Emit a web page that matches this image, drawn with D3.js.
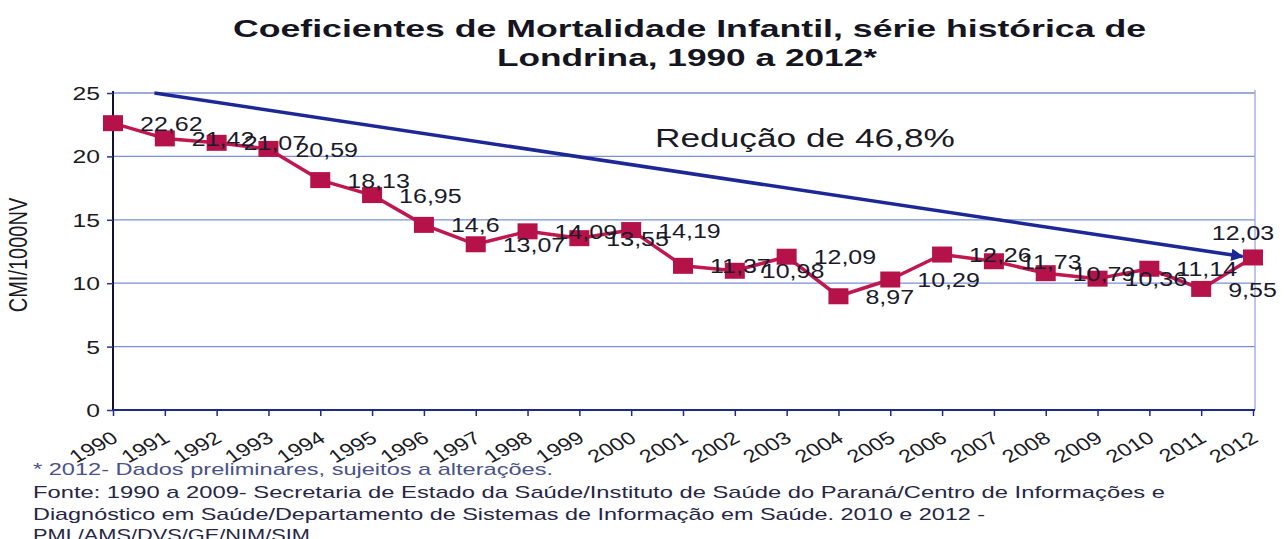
<!DOCTYPE html>
<html>
<head>
<meta charset="utf-8">
<script src="https://cdn.jsdelivr.net/npm/d3@7"></script>
<style>
  html, body { margin: 0; padding: 0; background: #ffffff; }
  svg { display: block; font-family: "Liberation Sans", Arial, sans-serif; }
</style>
</head>
<body>
<svg id="chart" width="1285" height="539"></svg>
<script>
// Infant mortality coefficients (per 1000 live births), Londrina
const years = [1990, 1991, 1992, 1993, 1994, 1995, 1996, 1997, 1998, 1999, 2000, 2001,
               2002, 2003, 2004, 2005, 2006, 2007, 2008, 2009, 2010, 2011, 2012];
const cmi = [22.62, 21.42, 21.07, 20.59, 18.13, 16.95, 14.6, 13.07, 14.09, 13.55, 14.19, 11.37,
             10.98, 12.09, 8.97, 10.29, 12.26, 11.73, 10.79, 10.36, 11.14, 9.55, 12.03];
const yTicks = [0, 5, 10, 15, 20, 25];

// Trend arrow (start and end, in year / value units)
const trendYears = [1990.8, 2011.8];
const trendValues = [25, 12.1];
const trendLabel = "Redução de 46,8%";

const titleLines = ["Coeficientes de Mortalidade Infantil, série histórica de",
                    "Londrina, 1990 a 2012*"];
const yTitle = "CMI/1000NV";
const notes = [
  "* 2012- Dados preliminares, sujeitos a alterações.",
  "Fonte: 1990 a 2009- Secretaria de Estado da Saúde/Instituto de Saúde do Paraná/Centro de Informações e",
  "Diagnóstico em Saúde/Departamento de Sistemas de Informação em Saúde. 2010 e 2012 -",
  "PML/AMS/DVS/GE/NIM/SIM"
];

const svg = d3.select("#chart");
const plot = { left: 113, right: 1253, top: 93, bottom: 410, frameRight: 1255 };
const SX = 1.3; // horizontal text stretch

const x = d3.scaleLinear().domain([1990, 2012]).range([plot.left, plot.right]);
const y = d3.scaleLinear().domain([0, 25]).range([plot.bottom, plot.top]);
const br = d3.formatLocale({ decimal: ",", thousands: ".", grouping: [3], currency: ["R$", ""] });
const fmt = br.format("");

// Title
const titleBox = [[233, 37, 913], [497, 66, 380]];
titleLines.forEach((t, i) => {
  svg.append("text")
    .attr("x", titleBox[i][0]).attr("y", titleBox[i][1])
    .attr("textLength", titleBox[i][2]).attr("lengthAdjust", "spacingAndGlyphs")
    .attr("font-size", 24).attr("font-weight", "bold").attr("fill", "#15151f")
    .text(t);
});

// Horizontal gridlines
svg.append("g").selectAll("line").data(yTicks.filter(d => d > 0)).join("line")
  .attr("x1", plot.left).attr("x2", plot.frameRight)
  .attr("y1", d => y(d)).attr("y2", d => y(d))
  .attr("stroke", "#7d8fd0").attr("stroke-width", 1.3);

// Right frame
svg.append("line")
  .attr("x1", plot.frameRight).attr("x2", plot.frameRight)
  .attr("y1", plot.top - 3).attr("y2", plot.bottom)
  .attr("stroke", "#9aa8da").attr("stroke-width", 1.3);

// Y axis
const yAxis = svg.append("g").attr("transform", `translate(${plot.left},0)`)
  .call(d3.axisLeft(y).tickValues(yTicks).tickSize(6).tickPadding(13));
yAxis.select(".domain").attr("stroke", "#12122a").attr("stroke-width", 2)
  .attr("d", `M0,${plot.top - 2}V${plot.bottom}`);
yAxis.selectAll(".tick line").attr("stroke", "#2a3590").attr("stroke-width", 1.5);
yAxis.selectAll(".tick text")
  .attr("font-size", 19).attr("fill", "#1a1a24")
  .attr("font-family", "'Liberation Sans', Arial, sans-serif")
  .attr("x", null).attr("dy", null)
  .attr("dominant-baseline", "central")
  .attr("transform", `translate(-13,0) scale(${SX},1)`);

// X axis
const xAxis = svg.append("g").attr("transform", `translate(0,${plot.bottom})`)
  .call(d3.axisBottom(x).tickValues(years).tickFormat(d3.format("d")).tickSize(6));
xAxis.select(".domain").attr("stroke", "#1e2a8a").attr("stroke-width", 2)
  .attr("d", `M${plot.left},0H${plot.frameRight}`);
xAxis.selectAll(".tick line").attr("stroke", "#1e2a8a").attr("stroke-width", 1.5);
xAxis.selectAll(".tick text")
  .attr("font-size", 18).attr("fill", "#1a1a24")
  .attr("font-family", "'Liberation Sans', Arial, sans-serif")
  .attr("y", null).attr("dy", null)
  .attr("text-anchor", "end")
  .attr("transform", `translate(6,31) scale(${SX},1) rotate(-34)`);

// Y axis title
svg.append("text")
  .attr("transform", `translate(27,255) scale(${SX},1) rotate(-90)`)
  .attr("text-anchor", "middle")
  .attr("font-size", 20).attr("fill", "#1a1a24")
  .text(yTitle);

// Series line
const pts = years.map((yr, i) => ({ year: yr, value: cmi[i] }));
const line = d3.line().x(d => x(d.year)).y(d => y(d.value));
svg.append("path").datum(pts)
  .attr("d", line)
  .attr("fill", "none").attr("stroke", "#c0174f").attr("stroke-width", 3.5)
  .attr("stroke-linejoin", "round");

// Square markers
const mw = 20, mh = 16;
svg.append("g").selectAll("rect").data(pts).join("rect")
  .attr("x", d => x(d.year) - mw / 2).attr("y", d => y(d.value) - mh / 2)
  .attr("width", mw).attr("height", mh)
  .attr("fill", "#b5124a");

// Trend arrow
svg.append("defs").append("marker")
  .attr("id", "arrowhead").attr("viewBox", "0 0 10 10")
  .attr("refX", 9).attr("refY", 5)
  .attr("markerWidth", 4.2).attr("markerHeight", 3.6)
  .attr("markerUnits", "strokeWidth")
  .attr("orient", "auto")
  .append("path").attr("d", "M0,0L10,5L0,10Z").attr("fill", "#1d2896");
const trend = trendYears.map((yr, i) => ({ year: yr, value: trendValues[i] }));
svg.append("path").datum(trend)
  .attr("d", line)
  .attr("fill", "none").attr("stroke", "#1d2896").attr("stroke-width", 3.5)
  .attr("marker-end", "url(#arrowhead)");

svg.append("text")
  .attr("x", 655).attr("y", 147)
  .attr("textLength", 300).attr("lengthAdjust", "spacingAndGlyphs")
  .attr("font-size", 25).attr("fill", "#1a1a24")
  .text(trendLabel);

// Value labels: right of each marker, last one above
svg.append("g").selectAll("text").data(pts).join("text")
  .attr("transform", (d, i) => {
    const last = i === pts.length - 1;
    const px = last ? x(d.year) - 10 : x(d.year) + 27;
    const py = last ? y(d.value) - 24 : y(d.value) + 1;
    return `translate(${px},${py}) scale(1.25,1)`;
  })
  .attr("text-anchor", (d, i) => i === pts.length - 1 ? "middle" : "start")
  .attr("dominant-baseline", "central")
  .attr("font-size", 20).attr("fill", "#1a1a2a")
  .text(d => fmt(d.value));

// Notes
const noteBox = [[33, 475, 520], [33, 498, 1132], [33, 520, 952], [33, 541, 277]];
notes.forEach((t, i) => {
  svg.append("text")
    .attr("x", noteBox[i][0]).attr("y", noteBox[i][1])
    .attr("textLength", noteBox[i][2]).attr("lengthAdjust", "spacingAndGlyphs")
    .attr("font-size", 17).attr("fill", i === 0 ? "#4a5288" : "#262646")
    .text(t);
});
</script>
</body>
</html>
